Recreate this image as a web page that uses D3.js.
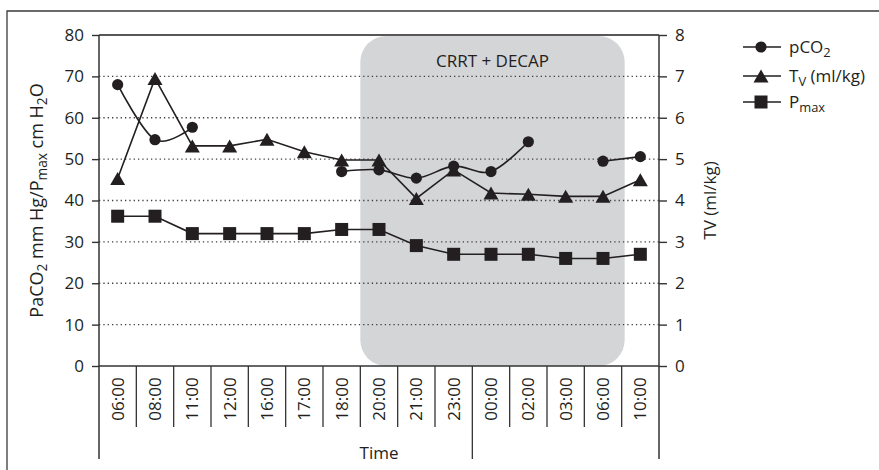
<!DOCTYPE html>
<html>
<head>
<meta charset="utf-8">
<script src="https://cdn.jsdelivr.net/npm/d3@7"></script>
<style>
  html, body { margin: 0; padding: 0; background: #fff; }
  svg { display: block; font-family: "Open Sans", "Noto Sans", sans-serif; }
</style>
</head>
<body>
<svg id="chart" width="879" height="470"></svg>
<script>
// Sampling times (x categories)
const times = ["06:00","08:00","11:00","12:00","16:00","17:00","18:00","20:00","21:00","23:00","00:00","02:00","03:00","06:00","10:00"];
// PaCO2 (mm Hg), left axis; null = not measured
const pco2 = [68, 54.7, 57.7, null, null, null, 47.0, 47.4, 45.4, 48.3, 47.0, 54.2, null, 49.5, 50.6];
// Tidal volume (ml/kg), right axis
const tv = [4.53, 6.95, 5.32, 5.32, 5.48, 5.18, 4.98, 4.98, 4.05, 4.74, 4.18, 4.15, 4.1, 4.1, 4.5];
// Peak pressure (cm H2O), left axis
const pmax = [36.2, 36.2, 32, 32, 32, 32, 33, 33, 29.1, 27, 27, 27, 26, 26, 27];
// Axis ticks
const leftTicks = [0, 10, 20, 30, 40, 50, 60, 70, 80];
const rightTicks = [0, 1, 2, 3, 4, 5, 6, 7, 8];
// Treatment period (first and last category index)
const treatStart = 7, treatEnd = 13;
const treatLabel = "CRRT + DECAP";

const ink = "#231f20";
const fs = 17;
const svg = d3.select("#chart");

const plotLeft = 99, plotRight = 659, plotTop = 35, plotBottom = 366;
const tickBottom = 427, groupBottom = 459;

const x = d3.scaleBand().domain(d3.range(times.length)).range([plotLeft, plotRight]).padding(0);
const cx = i => x(i) + x.bandwidth() / 2;
const yL = d3.scaleLinear().domain([0, 80]).range([plotBottom, plotTop]);
const yR = d3.scaleLinear().domain([0, 8]).range([plotBottom, plotTop]);

// text with subscript runs: parts = [[text, isSub], ...]
function richText(el, parts) {
  let low = false;
  parts.forEach(([t, sub]) => {
    const dy = sub && !low ? 4 : (!sub && low ? -4 : 0);
    const ts = el.append("tspan").attr("dy", dy).text(t);
    if (sub) ts.attr("font-size", "0.76em");
    low = sub;
  });
}

// outer frame (top and left edges)
svg.append("path").attr("d", "M7,470 V11 H879").attr("fill", "none").attr("stroke", "#3a3a3a").attr("stroke-width", 1.3);

// shaded treatment window
const shadeX0 = x(treatStart), shadeX1 = x(treatEnd) + x.bandwidth() + 3;
svg.append("rect")
  .attr("x", shadeX0).attr("y", plotTop + 1)
  .attr("width", shadeX1 - shadeX0)
  .attr("height", plotBottom - plotTop - 1)
  .attr("rx", 26).attr("ry", 26)
  .attr("fill", "#d4d5d7");
svg.append("text")
  .attr("x", (shadeX0 + shadeX1) / 2)
  .attr("y", 67).attr("text-anchor", "middle")
  .attr("font-size", fs).attr("fill", ink).text(treatLabel);

// dotted gridlines
svg.append("g").selectAll("line").data(leftTicks.filter(t => t > 0 && t < 80)).join("line")
  .attr("x1", plotLeft).attr("x2", plotRight)
  .attr("y1", d => yL(d)).attr("y2", d => yL(d))
  .attr("stroke", "#3f3f3f").attr("stroke-width", 1.3)
  .attr("stroke-dasharray", "1.3 3.03");

// plot top border
svg.append("line").attr("x1", plotLeft).attr("x2", plotRight).attr("y1", plotTop).attr("y2", plotTop)
  .attr("stroke", ink).attr("stroke-width", 1.5);

// left axis
const gL = svg.append("g").attr("transform", `translate(${plotLeft},0)`)
  .call(d3.axisLeft(yL).tickValues(leftTicks).tickSize(7).tickPadding(8).tickFormat(d3.format("d")));
// right axis
const gR = svg.append("g").attr("transform", `translate(${plotRight},0)`)
  .call(d3.axisRight(yR).tickValues(rightTicks).tickSize(8).tickPadding(8).tickFormat(d3.format("d")));
[gL, gR].forEach(g => {
  g.select(".domain").remove();
  g.selectAll(".tick line").attr("stroke", "#333").attr("stroke-width", 1.4);
  g.selectAll(".tick text").attr("font-size", fs).attr("fill", ink).attr("font-family", "Open Sans, sans-serif");
});
// axis spines extended into the category area
[plotLeft, plotRight].forEach(xx => {
  svg.append("line").attr("x1", xx).attr("x2", xx).attr("y1", plotTop).attr("y2", groupBottom)
    .attr("stroke", "#333").attr("stroke-width", 1.5);
});
// baseline
svg.append("line").attr("x1", plotLeft).attr("x2", plotRight).attr("y1", plotBottom).attr("y2", plotBottom)
  .attr("stroke", "#333").attr("stroke-width", 1.5);

// category separators (the one between days runs down to the group line)
svg.append("g").selectAll("line").data(d3.range(1, times.length)).join("line")
  .attr("x1", i => x(i)).attr("x2", i => x(i))
  .attr("y1", plotBottom).attr("y2", i => i === 10 ? groupBottom : tickBottom)
  .attr("stroke", "#333").attr("stroke-width", 1.3);

// category labels
svg.append("g").selectAll("text").data(times).join("text")
  .attr("transform", (d, i) => `translate(${cx(i) + 6},399) rotate(-90)`)
  .attr("text-anchor", "middle").attr("font-size", fs).attr("fill", ink)
  .text(d => d);

// x axis title
svg.append("text").attr("x", (plotLeft + plotRight) / 2).attr("y", 459).attr("text-anchor", "middle")
  .attr("font-size", fs).attr("fill", ink).text("Time");

// left axis title
const lt = svg.append("text").attr("transform", `translate(43,${(plotTop + plotBottom) / 2}) rotate(-90)`)
  .attr("text-anchor", "middle").attr("font-size", 18).attr("fill", ink);
richText(lt, [["PaCO", false], ["2", true], [" mm Hg/P", false], ["max", true], [" cm H", false], ["2", true], ["O", false]]);

// right axis title
svg.append("text").attr("transform", `translate(716,${(plotTop + plotBottom) / 2}) rotate(-90)`)
  .attr("text-anchor", "middle").attr("font-size", fs).attr("fill", ink).text("TV (ml/kg)");

// series lines
const pts = arr => arr.map((v, i) => ({ i, v }));
const lineSmooth = d3.line().defined(d => d.v != null).x(d => cx(d.i)).y(d => yL(d.v)).curve(d3.curveCatmullRom.alpha(0));
const lineL = d3.line().x(d => cx(d.i)).y(d => yL(d.v));
const lineR = d3.line().x(d => cx(d.i)).y(d => yR(d.v));

svg.append("path").attr("d", lineL(pts(pmax))).attr("fill", "none").attr("stroke", ink).attr("stroke-width", 1.6);
svg.append("path").attr("d", lineR(pts(tv))).attr("fill", "none").attr("stroke", ink).attr("stroke-width", 1.6);
svg.append("path").attr("d", lineSmooth(pts(pco2))).attr("fill", "none").attr("stroke", ink).attr("stroke-width", 1.6);

// markers
const triPath = (w, h) => `M0,${-h / 2} L${w / 2},${h / 2} L${-w / 2},${h / 2} Z`;
svg.append("g").selectAll("rect").data(pts(pmax)).join("rect")
  .attr("x", d => cx(d.i) - 6.5).attr("y", d => yL(d.v) - 6.5).attr("width", 13).attr("height", 13).attr("fill", ink);
svg.append("g").selectAll("path").data(pts(tv)).join("path")
  .attr("transform", d => `translate(${cx(d.i)},${yR(d.v)})`).attr("d", triPath(15, 13)).attr("fill", ink);
svg.append("g").selectAll("circle").data(pts(pco2).filter(d => d.v != null)).join("circle")
  .attr("cx", d => cx(d.i)).attr("cy", d => yL(d.v)).attr("r", 5.6).attr("fill", ink);

// legend
const legend = [
  { y: 47, kind: "circle", parts: [["pCO", false], ["2", true]] },
  { y: 76, kind: "tri", parts: [["T", false], ["V", true], [" (ml/kg)", false]] },
  { y: 102, kind: "square", parts: [["P", false], ["max", true]] }
];
legend.forEach(l => {
  const g = svg.append("g").attr("transform", `translate(0,${l.y})`);
  g.append("line").attr("x1", 743).attr("x2", 781).attr("stroke", ink).attr("stroke-width", 1.6);
  if (l.kind === "circle") g.append("circle").attr("cx", 761).attr("r", 5.6).attr("fill", ink);
  if (l.kind === "tri") g.append("path").attr("transform", "translate(761,0)").attr("d", triPath(15, 13)).attr("fill", ink);
  if (l.kind === "square") g.append("rect").attr("x", 754.5).attr("y", -6.5).attr("width", 13).attr("height", 13).attr("fill", ink);
  const t = g.append("text").attr("x", 789).attr("y", 6).attr("font-size", fs).attr("fill", ink);
  richText(t, l.parts);
});
</script>
</body>
</html>
